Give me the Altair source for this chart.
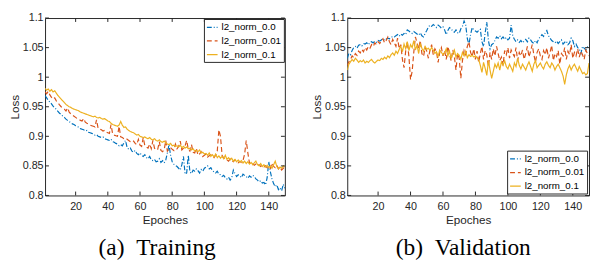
import altair as alt
import pandas as pd

series_names = ["l2_norm_0.0", "l2_norm_0.01", "l2_norm_0.1"]
series_colors = ["#0072BD", "#D95319", "#EDB120"]
series_dashes = [[5, 2, 1, 2], [5, 3], [1, 0]]

x_ticks = [20, 40, 60, 80, 100, 120, 140]
y_ticks = [0.8, 0.85, 0.9, 0.95, 1.0, 1.05, 1.1]

train_0 = [
    0.969, 0.965, 0.961, 0.958, 0.955, 0.951, 0.948, 0.946, 0.942, 0.939,
    0.937, 0.934, 0.932, 0.929, 0.927, 0.925, 0.923, 0.921, 0.920, 0.918,
    0.917, 0.915, 0.913, 0.912, 0.911, 0.909, 0.910, 0.907, 0.906, 0.905,
    0.904, 0.902, 0.903, 0.900, 0.899, 0.898, 0.899, 0.896, 0.895, 0.894,
    0.893, 0.895, 0.891, 0.890, 0.888, 0.887, 0.884, 0.886, 0.884, 0.889,
    0.893, 0.881, 0.878, 0.880, 0.875, 0.873, 0.876, 0.871, 0.869, 0.872,
    0.868, 0.866, 0.869, 0.864, 0.862, 0.866, 0.860, 0.859, 0.861, 0.857,
    0.858, 0.862, 0.856, 0.859, 0.855, 0.860, 0.872, 0.886, 0.868, 0.857,
    0.853, 0.851, 0.849, 0.846, 0.843, 0.852, 0.866, 0.836, 0.838, 0.868,
    0.840, 0.837, 0.843, 0.841, 0.845, 0.842, 0.838, 0.844, 0.841, 0.846,
    0.848, 0.850, 0.845, 0.847, 0.842, 0.840, 0.838, 0.841, 0.836, 0.835,
    0.832, 0.834, 0.830, 0.828, 0.831, 0.826, 0.830, 0.843, 0.837, 0.832,
    0.835, 0.833, 0.830, 0.836, 0.834, 0.832, 0.829, 0.833, 0.831, 0.834,
    0.832, 0.828, 0.826, 0.823, 0.825, 0.821, 0.822, 0.818, 0.830, 0.857,
    0.840, 0.828, 0.820, 0.815, 0.818, 0.810, 0.813, 0.808, 0.819, 0.812,
]
train_1 = [
    0.975, 0.972, 0.976, 0.970, 0.966, 0.963, 0.965, 0.960, 0.957, 0.953,
    0.950, 0.948, 0.946, 0.943, 0.948, 0.941, 0.938, 0.936, 0.934, 0.932,
    0.930, 0.929, 0.927, 0.926, 0.930, 0.924, 0.922, 0.921, 0.919, 0.918,
    0.917, 0.916, 0.928, 0.913, 0.912, 0.911, 0.909, 0.910, 0.907, 0.906,
    0.905, 0.920, 0.904, 0.902, 0.901, 0.900, 0.917, 0.899, 0.898, 0.896,
    0.897, 0.895, 0.893, 0.891, 0.890, 0.892, 0.888, 0.886, 0.895, 0.885,
    0.883, 0.898, 0.884, 0.882, 0.880, 0.887, 0.879, 0.893, 0.880, 0.877,
    0.878, 0.891, 0.876, 0.874, 0.877, 0.893, 0.875, 0.879, 0.881, 0.878,
    0.876, 0.887, 0.879, 0.883, 0.892, 0.877, 0.880, 0.884, 0.893, 0.878,
    0.875, 0.886, 0.873, 0.872, 0.880, 0.868, 0.870, 0.874, 0.866, 0.868,
    0.870, 0.865, 0.867, 0.869, 0.866, 0.864, 0.868, 0.875, 0.911, 0.900,
    0.868, 0.863, 0.862, 0.860, 0.858, 0.862, 0.859, 0.857, 0.860, 0.856,
    0.855, 0.858, 0.856, 0.859, 0.870, 0.893, 0.872, 0.855, 0.852, 0.854,
    0.851, 0.853, 0.850, 0.852, 0.849, 0.851, 0.848, 0.850, 0.847, 0.849,
    0.846, 0.855, 0.849, 0.847, 0.851, 0.845, 0.848, 0.843, 0.846, 0.848,
]
train_2 = [
    0.981, 0.978, 0.980, 0.976, 0.979, 0.975, 0.977, 0.973, 0.969, 0.966,
    0.963, 0.960, 0.957, 0.954, 0.952, 0.950, 0.949, 0.947, 0.946, 0.945,
    0.944, 0.943, 0.941, 0.940, 0.939, 0.938, 0.937, 0.936, 0.935, 0.934,
    0.933, 0.934, 0.932, 0.931, 0.932, 0.930, 0.929, 0.930, 0.928, 0.926,
    0.925, 0.922, 0.920, 0.919, 0.918, 0.917, 0.919, 0.925, 0.919, 0.915,
    0.916, 0.912, 0.910, 0.908, 0.907, 0.906, 0.904, 0.902, 0.903, 0.900,
    0.899, 0.898, 0.899, 0.897, 0.896, 0.898, 0.895, 0.894, 0.896, 0.893,
    0.892, 0.894, 0.891, 0.890, 0.892, 0.889, 0.887, 0.886, 0.888, 0.884,
    0.885, 0.883, 0.884, 0.882, 0.885, 0.881, 0.883, 0.880, 0.882, 0.879,
    0.880, 0.877, 0.879, 0.875, 0.876, 0.874, 0.877, 0.872, 0.873, 0.870,
    0.871, 0.868, 0.872, 0.866, 0.869, 0.865, 0.870, 0.864, 0.867, 0.863,
    0.866, 0.862, 0.868, 0.861, 0.864, 0.860, 0.863, 0.858, 0.861, 0.857,
    0.860, 0.856, 0.859, 0.855, 0.858, 0.854, 0.857, 0.853, 0.856, 0.852,
    0.855, 0.858, 0.852, 0.850, 0.854, 0.849, 0.852, 0.848, 0.851, 0.847,
    0.850, 0.846, 0.852, 0.858, 0.849, 0.845, 0.848, 0.846, 0.850, 0.848,
]

val_0 = [
    1.032, 1.040, 1.038, 1.045, 1.050, 1.052, 1.049, 1.054, 1.055, 1.053,
    1.057, 1.056, 1.058, 1.055, 1.059, 1.060, 1.058, 1.061, 1.059, 1.062,
    1.061, 1.063, 1.065, 1.062, 1.064, 1.066, 1.065, 1.067, 1.069, 1.068,
    1.070, 1.072, 1.069, 1.073, 1.071, 1.074, 1.072, 1.080, 1.078, 1.076,
    1.074, 1.077, 1.075, 1.073, 1.071, 1.075, 1.070, 1.068, 1.074, 1.079,
    1.085, 1.088, 1.086, 1.089, 1.087, 1.084, 1.088, 1.086, 1.083, 1.085,
    1.080, 1.072, 1.079, 1.084, 1.082, 1.078, 1.076, 1.080, 1.075, 1.074,
    1.082, 1.086, 1.095, 1.088, 1.065, 1.055, 1.072, 1.084, 1.080, 1.078,
    1.076, 1.079, 1.081, 1.060, 1.052, 1.075, 1.093, 1.062, 1.048, 1.055,
    1.057, 1.062, 1.068, 1.066, 1.070, 1.065, 1.068, 1.064, 1.067, 1.063,
    1.066, 1.088, 1.070, 1.064, 1.060, 1.063, 1.059, 1.062, 1.058, 1.061,
    1.064, 1.060, 1.066, 1.063, 1.059, 1.057, 1.062, 1.058, 1.065, 1.068,
    1.072, 1.069, 1.075, 1.079, 1.070, 1.066, 1.062, 1.060, 1.058, 1.061,
    1.057, 1.060, 1.063, 1.056, 1.059, 1.061, 1.055, 1.058, 1.066, 1.062,
    1.052, 1.056, 1.050, 1.048, 1.040, 1.052, 1.049, 1.046, 1.051, 1.048,
]
val_1 = [
    1.020, 1.026, 1.030, 1.036, 1.033, 1.040, 1.037, 1.044, 1.041, 1.047,
    1.043, 1.050, 1.046, 1.052, 1.049, 1.055, 1.052, 1.058, 1.055, 1.060,
    1.057, 1.061, 1.065, 1.058, 1.062, 1.068, 1.060, 1.055, 1.064, 1.058,
    1.052, 1.066, 1.048, 1.055, 1.030, 1.016, 1.044, 1.060, 1.035, 0.996,
    1.010, 1.042, 1.068, 1.058, 1.048, 1.062, 1.040, 1.035, 1.050, 1.044,
    1.032, 1.046, 1.055, 1.038, 1.048, 1.043, 1.025, 1.042, 1.050, 1.036,
    1.045, 1.030, 1.052, 1.040, 1.028, 1.046, 1.035, 1.012, 1.040, 1.032,
    0.998, 1.028, 1.045, 1.038, 1.052, 1.060, 1.042, 1.035, 1.048, 1.030,
    1.044, 1.025, 1.040, 1.052, 1.030, 1.045, 1.038, 1.018, 1.042, 1.030,
    1.048, 1.036, 1.052, 1.040, 1.028, 1.034, 1.020, 1.045, 1.038, 1.050,
    1.032, 1.046, 1.040, 1.035, 1.050, 1.028, 1.042, 1.036, 1.046, 1.030,
    1.040, 1.052, 1.034, 1.044, 1.055, 1.038, 1.025, 1.042, 1.048, 1.036,
    1.030, 1.045, 1.038, 1.050, 1.032, 1.042, 1.054, 1.028, 1.040, 1.035,
    1.045, 1.022, 1.040, 1.036, 1.050, 1.030, 1.044, 1.038, 1.055, 1.032,
    1.042, 1.036, 1.048, 1.034, 1.044, 1.038, 1.030, 1.046, 1.040, 1.036,
]
val_2 = [
    1.012, 1.022, 1.026, 1.030, 1.027, 1.032, 1.029, 1.025, 1.028, 1.026,
    1.029, 1.024, 1.027, 1.025, 1.028, 1.030, 1.026, 1.024, 1.027, 1.029,
    1.028, 1.032, 1.030, 1.034, 1.031, 1.036, 1.033, 1.038, 1.041, 1.037,
    1.044, 1.040, 1.047, 1.052, 1.043, 1.056, 1.048, 1.060, 1.045, 1.055,
    1.050, 1.062, 1.046, 1.054, 1.040, 1.057, 1.049, 1.044, 1.052, 1.047,
    1.049, 1.045, 1.050, 1.046, 1.040, 1.043, 1.035, 1.046, 1.042, 1.038,
    1.041, 1.048, 1.036, 1.044, 1.032, 1.039, 1.046, 1.034, 1.040, 1.037,
    1.030, 1.042, 1.036, 1.044, 1.033, 1.038, 1.035, 1.037, 1.034, 1.036,
    1.033, 1.030, 1.020, 1.008, 1.025, 1.015, 1.003, 1.028, 1.012, 0.998,
    1.010, 1.022, 1.016, 1.024, 1.012, 1.026, 1.020, 1.028, 1.018, 1.014,
    1.022, 1.016, 1.010, 1.024, 1.018, 1.032, 1.020, 1.014, 1.022, 1.017,
    1.012, 1.020, 1.026, 1.018, 1.010, 1.022, 1.028, 1.016, 1.020, 1.024,
    1.018, 1.014, 1.022, 1.026, 1.020, 1.016, 1.024, 1.020, 1.012, 1.018,
    1.022, 1.016, 1.010, 1.002, 0.988, 1.004, 1.014, 1.020, 1.012, 1.018,
    1.022, 1.016, 1.010, 1.018, 1.012, 1.006, 1.008, 1.004, 1.006, 1.024,
]

INK = "#262626"
SANS = "Liberation Sans"


def make_df(cols):
    rows = []
    for name, vals in zip(series_names, cols):
        for i, v in enumerate(vals):
            rows.append({"epoch": i + 1, "loss": v, "series": name})
    return pd.DataFrame(rows)


def panel(cols, width, height, legend_orient, legend_offset, caption, cap_dx):
    xscale = alt.Scale(domain=[1, 150], nice=False, zero=False)
    yscale = alt.Scale(domain=[0.8, 1.1], nice=False, zero=False)
    xaxis = alt.Axis(values=x_ticks, title="Epoches", ticks=False, domain=False,
                     grid=False, labelPadding=5, titlePadding=4,
                     labelFont=SANS, labelFontSize=11, labelColor=INK,
                     titleFont=SANS, titleFontSize=12, titleFontWeight="normal",
                     titleColor=INK)
    yaxis = alt.Axis(values=y_ticks, format="~g", title="Loss", ticks=False,
                     domain=False, grid=False, labelPadding=2, titlePadding=1,
                     labelFont=SANS, labelFontSize=11, labelColor=INK,
                     titleFont=SANS, titleFontSize=12, titleFontWeight="normal",
                     titleColor=INK)
    leg = alt.Legend(title=None, orient=legend_orient, offset=legend_offset,
                     fillColor="white", strokeColor=INK, padding=2,
                     rowPadding=2, symbolType="stroke", symbolSize=120,
                     symbolStrokeWidth=1.3, labelFont=SANS, labelFontSize=10,
                     labelColor="black", labelOffset=3, cornerRadius=0)
    df = make_df(cols)
    lines = alt.Chart(df).mark_line(strokeWidth=1.2, clip=True).encode(
        x=alt.X("epoch:Q", scale=xscale, axis=xaxis),
        y=alt.Y("loss:Q", scale=yscale, axis=yaxis),
        color=alt.Color("series:N", scale=alt.Scale(domain=series_names, range=series_colors), legend=leg),
        strokeDash=alt.StrokeDash("series:N", scale=alt.Scale(domain=series_names, range=series_dashes), legend=leg),
    )
    xt = pd.DataFrame({"t": x_ticks})
    yt = pd.DataFrame({"t": y_ticks})
    bx = alt.X("t:Q", scale=xscale, axis=xaxis)
    by = alt.Y("t:Q", scale=yscale, axis=yaxis)
    tick_bottom = alt.Chart(xt).mark_rule(color=INK).encode(x=bx, y=alt.value(height), y2=alt.value(height - 4))
    tick_top = alt.Chart(xt).mark_rule(color=INK).encode(x=bx, y=alt.value(0), y2=alt.value(4))
    tick_left = alt.Chart(yt).mark_rule(color=INK).encode(y=by, x=alt.value(0), x2=alt.value(4))
    tick_right = alt.Chart(yt).mark_rule(color=INK).encode(y=by, x=alt.value(width), x2=alt.value(width - 4))
    return alt.layer(lines, tick_bottom, tick_top, tick_left, tick_right).properties(
        width=width, height=height,
        title=alt.TitleParams(text=caption, orient="bottom", anchor="middle", frame="group",
                              font="Liberation Serif", fontSize=24, fontWeight="normal",
                              color="black", offset=11, dx=cap_dx),
    )


left = panel([train_0, train_1, train_2], 246, 182, "top-right", 1, "(a)\u00a0\u00a0Training", -8)
right = panel([val_0, val_1, val_2], 248, 182, "bottom-right", 2, "(b)\u00a0\u00a0Validation", -5)

chart = alt.hconcat(left, right, spacing=25).properties(padding=0).configure_view(
    stroke=INK, strokeWidth=1
)

chart.save("out.html", embed_options={"renderer": "svg", "actions": False})
